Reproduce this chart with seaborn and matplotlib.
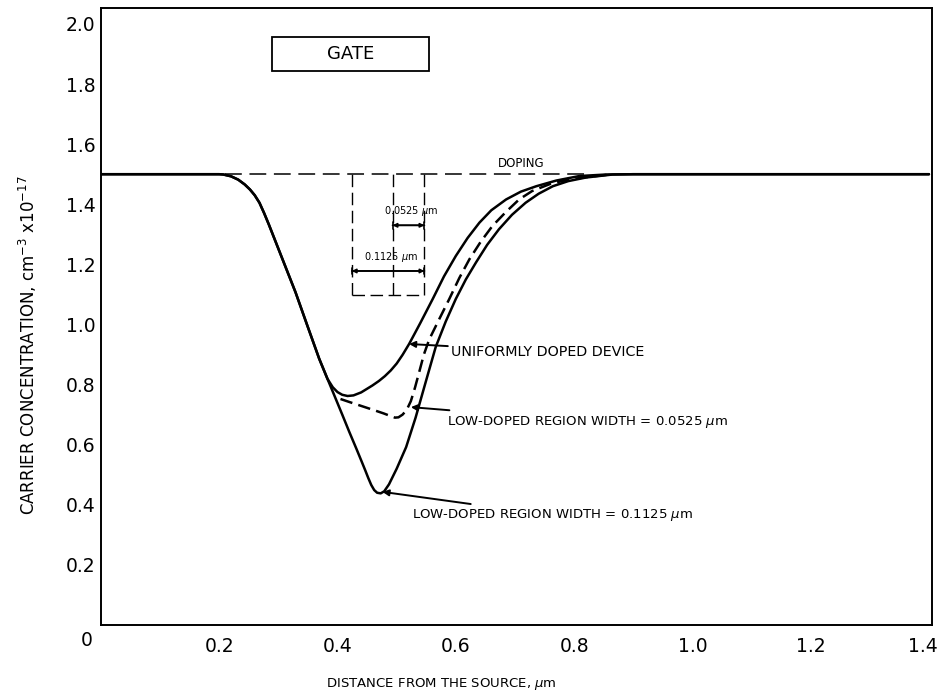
import numpy as np
import pandas as pd
import matplotlib
matplotlib.use("Agg")
import matplotlib.pyplot as plt
import matplotlib.transforms as mtransforms
from matplotlib.patches import Rectangle
import seaborn as sns

# common left part of the curves (flat, then falling edge under the gate)
descent_x = [0.0, 0.10, 0.20, 0.207, 0.220, 0.232, 0.243, 0.252, 0.260, 0.268,
             0.276, 0.284, 0.307, 0.329, 0.349, 0.369, 0.383]
descent_y = [1.5, 1.5, 1.5, 1.499, 1.493, 1.482, 1.466, 1.449, 1.430, 1.405,
             1.370, 1.332, 1.217, 1.107, 0.996, 0.886, 0.819]

uniform_x = [0.392, 0.400, 0.408, 0.417, 0.427, 0.440, 0.459, 0.470, 0.480, 0.490,
             0.500, 0.510, 0.521, 0.530, 0.540, 0.561, 0.580, 0.600, 0.620, 0.640,
             0.660, 0.685, 0.710, 0.736, 0.770, 0.809, 0.854, 0.900, 1.000, 1.200,
             1.400]
uniform_y = [0.791, 0.775, 0.766, 0.762, 0.764, 0.774, 0.797, 0.812, 0.828, 0.847,
             0.870, 0.899, 0.935, 0.968, 1.005, 1.085, 1.160, 1.228, 1.288, 1.339,
             1.380, 1.416, 1.442, 1.460, 1.479, 1.494, 1.499, 1.500, 1.500, 1.500,
             1.500]

wide_x = [0.395, 0.408, 0.420, 0.432, 0.441, 0.447, 0.452, 0.457, 0.462, 0.467,
          0.473, 0.479, 0.487, 0.500, 0.516, 0.532, 0.549, 0.566, 0.583, 0.600,
          0.617, 0.634, 0.653, 0.673, 0.695, 0.718, 0.740, 0.764, 0.790, 0.820,
          0.865, 0.900, 1.000, 1.200, 1.400]
wide_y = [0.762, 0.700, 0.642, 0.586, 0.543, 0.514, 0.489, 0.466, 0.449, 0.440,
          0.438, 0.445, 0.468, 0.520, 0.592, 0.690, 0.808, 0.925, 1.010, 1.085,
          1.150, 1.206, 1.265, 1.317, 1.365, 1.405, 1.435, 1.460, 1.477, 1.489,
          1.499, 1.500, 1.500, 1.500, 1.500]

narrow_x = [0.405, 0.420, 0.440, 0.460, 0.478, 0.490, 0.497, 0.503, 0.510, 0.517,
            0.524, 0.531, 0.538, 0.546, 0.555, 0.570, 0.589, 0.606, 0.623, 0.642,
            0.662, 0.685, 0.707, 0.729, 0.760, 0.790, 0.820, 0.860]
narrow_y = [0.752, 0.742, 0.729, 0.716, 0.704, 0.695, 0.690, 0.691, 0.700, 0.716,
            0.745, 0.790, 0.841, 0.900, 0.950, 1.010, 1.085, 1.155, 1.217, 1.275,
            1.328, 1.375, 1.416, 1.444, 1.468, 1.482, 1.490, 1.499]

doping_level = 1.5
doping_x = [0.21, 0.82]
box_left, box_mid, box_right, box_bottom = 0.424, 0.493, 0.547, 1.099

xticks = [0.2, 0.4, 0.6, 0.8, 1.0, 1.2, 1.4]
xtick_labels = ["0.2", "0.4", "0.6", "0.8", "1.0", "1.2", "1.4"]
yticks = [0.2, 0.4, 0.6, 0.8, 1.0, 1.2, 1.4, 1.6, 1.8, 2.0]
ytick_labels = ["0.2", "0.4", "0.6", "0.8", "1.0", "1.2", "1.4", "1.6", "1.8", "2.0"]

df = pd.concat([
    pd.DataFrame({"x": descent_x + uniform_x, "y": descent_y + uniform_y, "curve": "uniform"}),
    pd.DataFrame({"x": descent_x + wide_x, "y": descent_y + wide_y, "curve": "w1125"}),
    pd.DataFrame({"x": narrow_x, "y": narrow_y, "curve": "w0525"}),
])

sns.set_style("white")
plt.rcParams["font.family"] = ["DejaVu Sans"]
plt.rcParams["text.color"] = "black"

fig = plt.figure(figsize=(9.4, 6.98), dpi=100)
ax = fig.add_axes([0.1074, 0.1046, 0.8840, 0.8839])

sns.lineplot(data=df, x="x", y="y", hue="curve", style="curve",
             palette={"uniform": "black", "w1125": "black", "w0525": "black"},
             dashes={"uniform": "", "w1125": "", "w0525": (5, 2.5)},
             estimator=None, sort=True, linewidth=1.8, legend=False, ax=ax)

# doping level and the dashed low-doped region boxes
ax.plot(doping_x, [doping_level, doping_level], color="black", lw=1.1,
        linestyle=(0, (11, 5)))
for xv in (box_left, box_mid, box_right):
    ax.plot([xv, xv], [box_bottom, doping_level], color="black", lw=1.0,
            linestyle=(0, (9, 4)))
ax.plot([box_left, box_right], [box_bottom, box_bottom], color="black", lw=1.0,
        linestyle=(0, (9, 4)))
ax.text(0.711, 1.513, "DOPING", fontsize=8.5, ha="center", va="bottom")

# dimension arrows
for x0, yv, lab, lx in [(box_mid, 1.330, "0.0525 $\\mu$m", 0.524),
                        (box_left, 1.178, "0.1125 $\\mu$m", 0.490)]:
    ax.annotate("", xy=(box_right, yv), xytext=(x0, yv),
                arrowprops=dict(arrowstyle="<|-|>", color="black", lw=1.2,
                                mutation_scale=6, shrinkA=0, shrinkB=0))
    ax.annotate("", xy=(box_right, yv), xytext=(x0, yv),
                arrowprops=dict(arrowstyle="|-|,widthA=0.25,widthB=0.25", color="black",
                                lw=1.2, shrinkA=0, shrinkB=0))
    ax.text(lx, yv + 0.047, lab, fontsize=7, ha="center", va="center")

# gate box
ax.add_patch(Rectangle((0.289, 1.844), 0.266, 0.113, fill=False, ec="black", lw=1.3))
ax.text(0.422, 1.90, "GATE", fontsize=13, ha="center", va="center")

# curve labels
arrow = dict(arrowstyle="-|>", color="black", lw=1.4, mutation_scale=9,
             shrinkA=0, shrinkB=0)
ax.annotate("UNIFORMLY DOPED DEVICE", xy=(0.521, 0.935), xytext=(0.592, 0.91),
            fontsize=10.3, va="center", ha="left", arrowprops=arrow)
ax.annotate("LOW-DOPED REGION WIDTH = 0.0525 $\\mu$m", xy=(0.524, 0.725),
            xytext=(0.585, 0.677), fontsize=9.5, va="center", ha="left",
            arrowprops=arrow)
ax.annotate("LOW-DOPED REGION WIDTH = 0.1125 $\\mu$m", xy=(0.476, 0.443),
            xytext=(0.526, 0.365), fontsize=9.5, va="center", ha="left",
            arrowprops=arrow)

ax.set_xlim(0, 1.405)
ax.set_ylim(0, 2.053)
ax.set_xticks(xticks)
ax.set_xticklabels(xtick_labels)
ax.set_yticks(yticks)
ax.set_yticklabels(ytick_labels)
ax.tick_params(axis="both", direction="in", length=14, width=1.2, labelsize=13.5,
               color="black", labelcolor="black")
ax.tick_params(axis="x", pad=9)
ax.tick_params(axis="y", pad=4)
ax.set_xlabel("")
ax.set_ylabel("")
for side in ["left", "bottom", "right", "top"]:
    ax.spines[side].set_color("black")
    ax.spines[side].set_linewidth(1.4)
ax.text(-0.024, -0.053, "0", fontsize=13.5, ha="center", va="center", clip_on=False)

# keep the last x tick label inside the figure
last = ax.get_xticklabels()[-1]
last.set_transform(last.get_transform()
                   + mtransforms.ScaledTranslation(-6 / 100, 0, fig.dpi_scale_trans))

fig.text(0.470, 0.020, "DISTANCE FROM THE SOURCE, $\\mu$m", fontsize=9.5,
         ha="center", va="center")
fig.text(0.030, 0.505, "CARRIER CONCENTRATION, cm$^{-3}$ x10$^{-17}$", fontsize=12,
         ha="center", va="center", rotation=90)

fig.savefig("out.png", dpi=100, facecolor="white")
